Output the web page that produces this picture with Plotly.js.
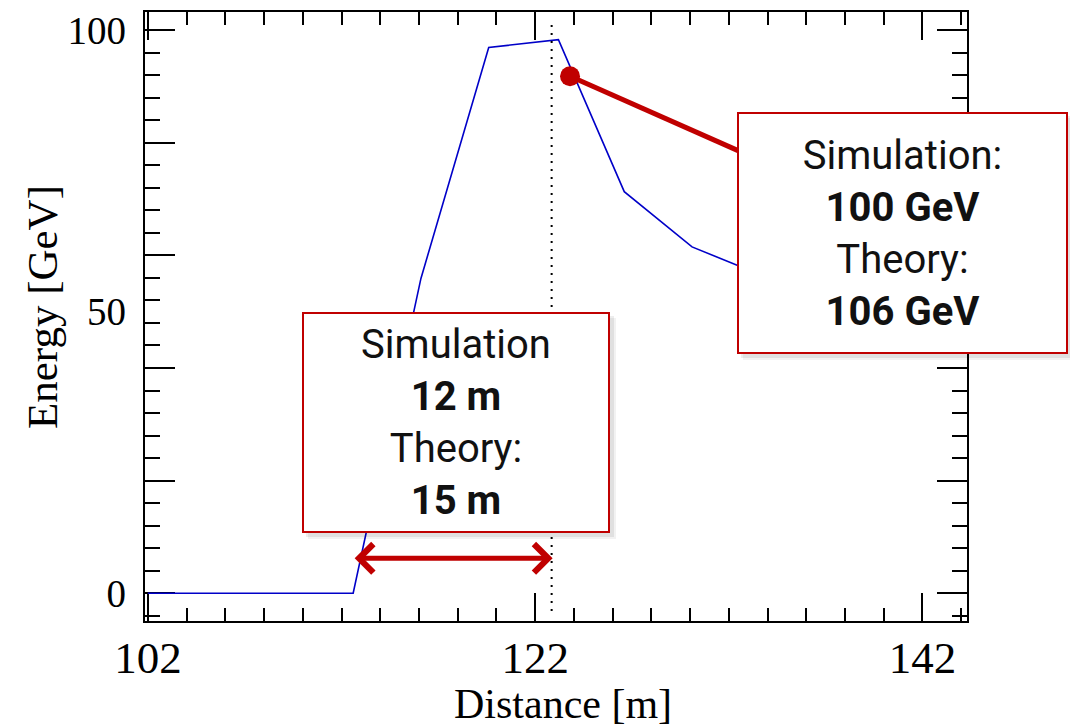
<!DOCTYPE html>
<html>
<head>
<meta charset="utf-8">
<script src="https://cdn.plot.ly/plotly-3.0.1.min.js"></script>
<style>html,body{margin:0;padding:0;background:#fff;}#chart{width:1070px;height:727px;}</style>
</head>
<body>
<div id="chart"></div>
<script>
// ---- data ----
var distance = [102.0, 112.6, 116.1, 119.6, 123.2, 126.6, 130.1, 133.6, 137.1, 140.6, 144.1];
var energy   = [0.0,   0.0,   55.9,  96.9,  98.3,  71.3,  61.5,  56.6,  53.5,  51.5,  50.0];

var markerX = [122.85, 122.85];   // dotted vertical marker
var markerY = [100.9, -3.3];

var calloutX = [123.8, 132.8];     // red pointer from peak to label box
var calloutY = [91.8, 78.1];

var arrowFrom = 112.6, arrowTo = 122.9, arrowY = 6.2;

var xTickVals = [102, 122, 142];
var xTickText = ['102', '122', '142'];
var yMajorTicks = [0, 20, 40, 60, 80, 100];
var yLabelVals = [0, 50, 100];
var yLabelText = ['0', '50', '100'];

var boxLeftText = 'Simulation<br><b>12 m</b><br>Theory:<br><b>15 m</b>';
var boxRightText = 'Simulation:<br><b>100 GeV</b><br>Theory:<br><b>106 GeV</b>';

var RED = '#c00000';
var serif = 'Liberation Serif, serif';
var sans = 'Roboto, sans-serif';

var traces = [
  {x: distance, y: energy, mode: 'lines', line: {color: '#0000c8', width: 1.6}, hoverinfo: 'skip', showlegend: false},
  {x: markerX, y: markerY, mode: 'lines', line: {color: '#000', width: 2, dash: '2px,6px'}, hoverinfo: 'skip', showlegend: false},
  {x: calloutX, y: calloutY, mode: 'lines', line: {color: RED, width: 5}, hoverinfo: 'skip', showlegend: false},
  {x: [calloutX[0]], y: [calloutY[0]], mode: 'markers', marker: {color: RED, size: 20}, hoverinfo: 'skip', showlegend: false},
  {x: [], y: [], yaxis: 'y2', mode: 'lines', hoverinfo: 'skip', showlegend: false}
];

function shadow(x, y, w, h, dx, dy, a) {
  return {xref: 'paper', yref: 'paper', x: x, y: y, xanchor: 'center', yanchor: 'middle',
    text: ' ', showarrow: false, width: w, height: h, bgcolor: 'rgba(0,0,0,' + a + ')',
    borderwidth: 0, borderpad: 2, xshift: dx, yshift: dy};
}

var b1x = 0.3783, b1y = 0.326, b1w = 304, b1h = 217;
var b2x = 0.9215, b2y = 0.637, b2w = 327, b2h = 238;

var annotations = [
  shadow(b1x, b1y, b1w, b1h, 6, -6, 0.05),
  shadow(b1x, b1y, b1w, b1h, 4, -4, 0.07),
  shadow(b2x, b2y, b2w, b2h, 6, -6, 0.05),
  shadow(b2x, b2y, b2w, b2h, 4, -4, 0.07),
  {xref: 'paper', yref: 'paper', x: b1x, y: b1y, xanchor: 'center', yanchor: 'middle',
   text: boxLeftText, showarrow: false, width: b1w, height: b1h, bgcolor: '#fff',
   bordercolor: RED, borderwidth: 2, borderpad: 0, align: 'center', valign: 'middle',
   font: {family: sans, size: 40, color: '#111'}},
  {xref: 'paper', yref: 'paper', x: b2x, y: b2y, xanchor: 'center', yanchor: 'middle',
   text: boxRightText, showarrow: false, width: b2w, height: b2h, bgcolor: '#fff',
   bordercolor: RED, borderwidth: 2, borderpad: 0, align: 'center', valign: 'middle',
   font: {family: sans, size: 40, color: '#111'}},
  {x: arrowTo, y: arrowY, ax: arrowFrom, ay: arrowY, xref: 'x', yref: 'y', axref: 'x', ayref: 'y',
   text: '', showarrow: true, arrowhead: 4, startarrowhead: 4, arrowside: 'end+start',
   arrowsize: 1.1, startarrowsize: 1.1, arrowwidth: 5, arrowcolor: RED, standoff: 0, startstandoff: 0},
  {xref: 'paper', yref: 'paper', x: (563 - 145) / 822, y: (621 - 704) / 609, xanchor: 'center', yanchor: 'middle',
   text: 'Distance [m]', showarrow: false, font: {family: serif, size: 42, color: '#000'}},
  {xref: 'paper', yref: 'paper', x: (42 - 145) / 822, y: (621 - 307) / 609, xanchor: 'center', yanchor: 'middle',
   text: 'Energy [GeV]', textangle: -90, showarrow: false, font: {family: serif, size: 43, color: '#000'}}
];

var layout = {
  width: 1070, height: 727,
  margin: {l: 145, r: 103, t: 12, b: 106},
  paper_bgcolor: '#fff', plot_bgcolor: '#fff',
  showlegend: false,
  xaxis: {
    range: [101.85, 144.3], showgrid: false, zeroline: false,
    showline: true, linecolor: '#000', linewidth: 2, mirror: 'ticks',
    tickmode: 'array', tickvals: xTickVals, ticktext: xTickText,
    ticks: 'inside', ticklen: 28, tickwidth: 2, tickcolor: '#000',
    ticklabelstandoff: -4, layer: 'below traces',
    tickfont: {family: serif, size: 45, color: '#000'},
    minor: {tickmode: 'linear', tick0: 102, dtick: 2, ticks: 'inside', ticklen: 13, tickwidth: 2, tickcolor: '#000', showgrid: false}
  },
  yaxis: {
    range: [-4.92, 103.2], showgrid: false, zeroline: false,
    showline: true, linecolor: '#000', linewidth: 2, mirror: 'ticks',
    tickmode: 'array', tickvals: yMajorTicks, showticklabels: false,
    ticks: 'inside', ticklen: 30, tickwidth: 2, tickcolor: '#000', layer: 'below traces',
    minor: {tickmode: 'linear', tick0: 0, dtick: 4, ticks: 'inside', ticklen: 15, tickwidth: 2, tickcolor: '#000', showgrid: false}
  },
  yaxis2: {
    overlaying: 'y', side: 'left', range: [-4.92, 103.2],
    showgrid: false, zeroline: false, showline: false, ticks: '',
    tickmode: 'array', tickvals: yLabelVals, ticktext: yLabelText,
    ticklabelstandoff: 18,
    tickfont: {family: serif, size: 39, color: '#000'}
  },
  annotations: annotations
};

Plotly.newPlot('chart', traces, layout, {displayModeBar: false, staticPlot: true});
</script>
</body>
</html>
